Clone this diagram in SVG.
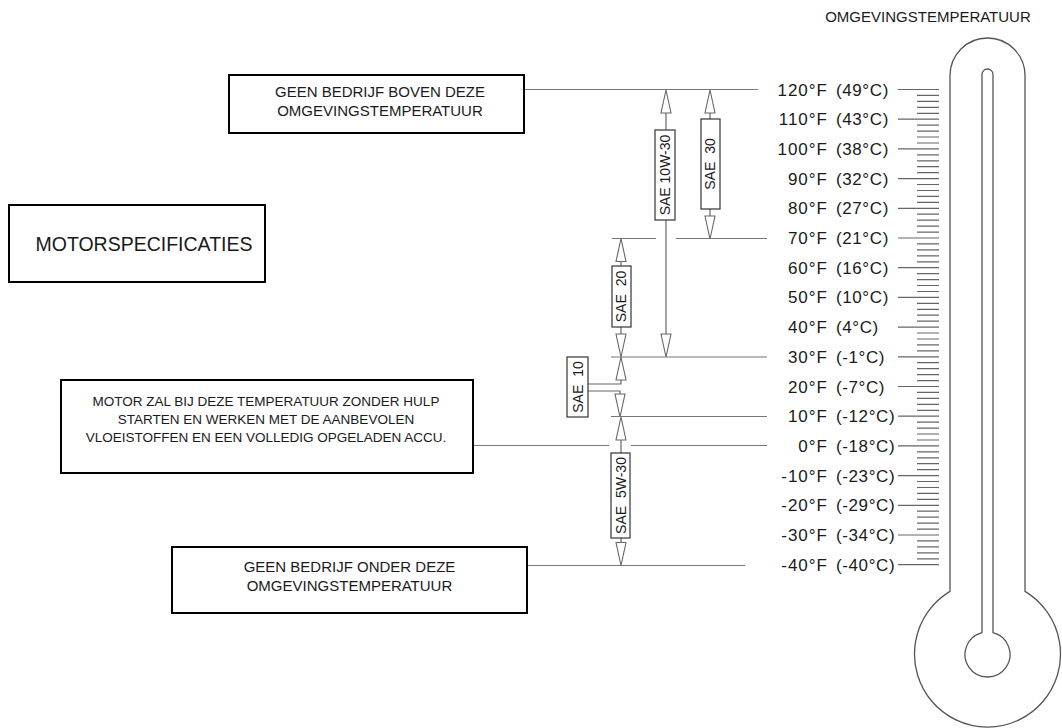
<svg xmlns="http://www.w3.org/2000/svg" xmlns:xlink="http://www.w3.org/1999/xlink" width="1062" height="728" viewBox="0 0 1062 728">
<style>
.t{font-family:"Liberation Sans",Arial,sans-serif;fill:#1a1a1a}
.box{fill:#fff;stroke:#000;stroke-width:2}
.ref{stroke:#777;stroke-width:1.2;fill:none}
.stem{stroke:#666;stroke-width:1.2;fill:none}
.ah{fill:#fff;stroke:#666;stroke-width:1.1}
.sbox{fill:#fff;stroke:#333;stroke-width:1.2}
.tick{stroke:#666;stroke-width:1.2}
.thermo{fill:none;stroke:#555;stroke-width:1.3}
</style>
<defs>
<path id="up" class="ah" d="M0,0 L-5,23 L5,23 Z"/>
<path id="dn" class="ah" d="M0,0 L-5,-23 L5,-23 Z"/>
</defs>
<rect width="1062" height="728" fill="#fff"/>

<g id="connectors">
<path class="ref" d="M524,89.5 H758"/>
<path class="ref" d="M612,238.5 H656 M676,238.5 H767"/>
<path class="ref" d="M611,357 H767"/>
<path class="ref" d="M611,416.5 H767"/>
<path class="ref" d="M473,445.5 H609 M631,445.5 H767"/>
<path class="ref" d="M527,565.5 H745"/>
</g>

<g id="sae-10w-30">
<path class="stem" d="M666,113 V130 M666,220 V334"/>
<use xlink:href="#up" x="666" y="90"/>
<use xlink:href="#dn" x="666" y="357"/>
<rect class="sbox" x="655" y="130" width="20" height="90"/>
<text class="t" font-size="14" text-anchor="middle" transform="translate(670,175) rotate(-90)">SAE 10W-30</text>
</g>

<g id="sae-30">
<path class="stem" d="M710,112 V119 M710,209 V216"/>
<use xlink:href="#up" x="710" y="90"/>
<use xlink:href="#dn" x="710" y="239"/>
<rect class="sbox" x="701" y="119" width="19" height="90"/>
<text class="t" font-size="14" text-anchor="middle" word-spacing="4" transform="translate(715,164) rotate(-90)">SAE 30</text>
</g>

<g id="sae-20">
<path class="stem" d="M621,261 V266 M621,327 V334"/>
<use xlink:href="#up" x="621" y="238.5"/>
<use xlink:href="#dn" x="621" y="357"/>
<rect class="sbox" x="612" y="266" width="19" height="61"/>
<text class="t" font-size="14" text-anchor="middle" word-spacing="4" transform="translate(626,296.5) rotate(-90)">SAE 20</text>
</g>

<g id="sae-10">
<path class="stem" d="M621,380 V384 H588 M588,391 H620 V394"/>
<use xlink:href="#up" x="621" y="357"/>
<use xlink:href="#dn" x="620" y="417"/>
<rect class="sbox" x="567" y="357" width="21" height="60"/>
<text class="t" font-size="14" text-anchor="middle" word-spacing="4" transform="translate(582.5,387) rotate(-90)">SAE 10</text>
</g>

<g id="sae-5w-30">
<path class="stem" d="M621,440 V453 M621,538 V542"/>
<use xlink:href="#up" x="621" y="417"/>
<use xlink:href="#dn" x="621" y="565.5"/>
<rect class="sbox" x="611" y="453" width="19" height="85"/>
<text class="t" font-size="14" text-anchor="middle" word-spacing="4" transform="translate(625.5,495.5) rotate(-90)">SAE 5W-30</text>
</g>

<g id="box-boven">
<rect class="box" x="229" y="75" width="295" height="58"/>
<text class="t" font-size="15" text-anchor="middle" x="380" y="97">GEEN BEDRIJF BOVEN DEZE</text>
<text class="t" font-size="15" text-anchor="middle" x="380" y="116">OMGEVINGSTEMPERATUUR</text>
</g>

<g id="box-motorspec">
<rect class="box" x="9" y="205" width="256" height="77"/>
<text class="t" font-size="19.5" text-anchor="middle" x="144" y="251">MOTORSPECIFICATIES</text>
</g>

<g id="box-motor">
<rect class="box" x="61" y="380" width="412" height="93"/>
<text class="t" font-size="13.5" text-anchor="middle" x="266" y="406">MOTOR ZAL BIJ DEZE TEMPERATUUR ZONDER HULP</text>
<text class="t" font-size="13.5" text-anchor="middle" x="266" y="424">STARTEN EN WERKEN MET DE AANBEVOLEN</text>
<text class="t" font-size="13.5" text-anchor="middle" x="266" y="442">VLOEISTOFFEN EN EEN VOLLEDIG OPGELADEN ACCU.</text>
</g>

<g id="box-onder">
<rect class="box" x="172" y="547" width="355" height="66"/>
<text class="t" font-size="15" text-anchor="middle" x="349.5" y="572">GEEN BEDRIJF ONDER DEZE</text>
<text class="t" font-size="15" text-anchor="middle" x="349.5" y="591">OMGEVINGSTEMPERATUUR</text>
</g>

<g id="scale-labels" class="t" font-size="17">
<g text-anchor="end" letter-spacing="1">
<text x="828" y="95.5">120°F</text>
<text x="828" y="125.2">110°F</text>
<text x="828" y="154.9">100°F</text>
<text x="828" y="184.6">90°F</text>
<text x="828" y="214.3">80°F</text>
<text x="828" y="244">70°F</text>
<text x="828" y="273.7">60°F</text>
<text x="828" y="303.4">50°F</text>
<text x="828" y="333.1">40°F</text>
<text x="828" y="362.8">30°F</text>
<text x="828" y="392.5">20°F</text>
<text x="828" y="422.2">10°F</text>
<text x="828" y="451.9">0°F</text>
<text x="828" y="481.6">-10°F</text>
<text x="828" y="511.3">-20°F</text>
<text x="828" y="541">-30°F</text>
<text x="828" y="570.7">-40°F</text>
</g>
<g text-anchor="start" letter-spacing="0.6">
<text x="836" y="95.5">(49°C)</text>
<text x="836" y="125.2">(43°C)</text>
<text x="836" y="154.9">(38°C)</text>
<text x="836" y="184.6">(32°C)</text>
<text x="836" y="214.3">(27°C)</text>
<text x="836" y="244">(21°C)</text>
<text x="836" y="273.7">(16°C)</text>
<text x="836" y="303.4">(10°C)</text>
<text x="836" y="333.1">(4°C)</text>
<text x="836" y="362.8">(-1°C)</text>
<text x="836" y="392.5">(-7°C)</text>
<text x="836" y="422.2">(-12°C)</text>
<text x="836" y="451.9">(-18°C)</text>
<text x="836" y="481.6">(-23°C)</text>
<text x="836" y="511.3">(-29°C)</text>
<text x="836" y="541">(-34°C)</text>
<text x="836" y="570.7">(-40°C)</text>
</g>
</g>

<g id="thermometer">
<text class="t" font-size="15" text-anchor="middle" x="928" y="22">OMGEVINGSTEMPERATUUR</text>
<path class="thermo" d="M950,591.4 V75.5 A37.5,37.5 0 0 1 1025,75.5 V591.4 A73,73 0 1 1 950,591.4 Z"/>
<path class="thermo" d="M982,632.7 V74.5 A5.5,5.5 0 0 1 993,74.5 V632.7 A22.5,22.5 0 1 1 982,632.7 Z"/>
<path class="tick" d="M898,89.5H939 M917,95.4H939 M917,101.4H939 M917,107.3H939 M917,113.3H939 M898,119.2H939 M917,125.1H939 M917,131.1H939 M917,137H939 M917,143H939 M898,148.9H939 M917,154.8H939 M917,160.8H939 M917,166.7H939 M917,172.7H939 M898,178.6H939 M917,184.5H939 M917,190.5H939 M917,196.4H939 M917,202.4H939 M898,208.3H939 M917,214.2H939 M917,220.2H939 M917,226.1H939 M917,232.1H939 M898,238H939 M917,243.9H939 M917,249.9H939 M917,255.8H939 M917,261.8H939 M898,267.7H939 M917,273.6H939 M917,279.6H939 M917,285.5H939 M917,291.5H939 M898,297.4H939 M917,303.3H939 M917,309.3H939 M917,315.2H939 M917,321.2H939 M898,327.1H939 M917,333H939 M917,339H939 M917,344.9H939 M917,350.9H939 M898,356.8H939 M917,362.7H939 M917,368.7H939 M917,374.6H939 M917,380.6H939 M898,386.5H939 M917,392.4H939 M917,398.4H939 M917,404.3H939 M917,410.3H939 M898,416.2H939 M917,422.1H939 M917,428.1H939 M917,434H939 M917,440H939 M898,445.9H939 M917,451.8H939 M917,457.8H939 M917,463.7H939 M917,469.7H939 M898,475.6H939 M917,481.5H939 M917,487.5H939 M917,493.4H939 M917,499.4H939 M898,505.3H939 M917,511.2H939 M917,517.2H939 M917,523.1H939 M917,529.1H939 M898,535H939 M917,540.9H939 M917,546.9H939 M917,552.8H939 M917,558.8H939 M898,564.7H939"/>
</g>
</svg>
